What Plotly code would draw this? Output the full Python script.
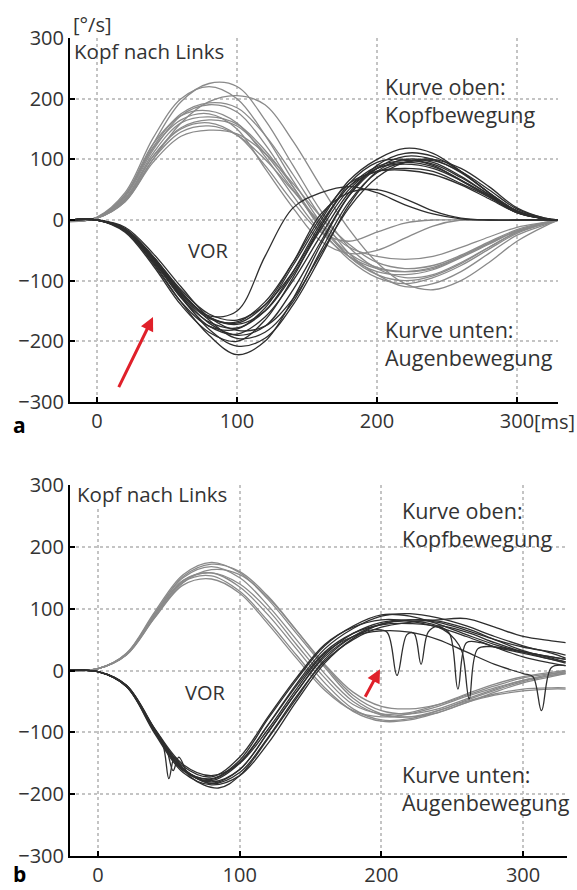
import plotly.graph_objects as go

# ---------------- data ----------------
T = [-20, 0, 20, 40, 60, 80, 100, 120, 140, 160, 180, 200, 220, 240, 260, 280, 300, 320, 330]

X_TICKS = [0, 100, 200, 300]
X_TICK_TEXT_A = ["0", "100", "200", "300"]
X_TICK_TEXT_B = ["0", "100", "200", "300"]
Y_TICKS = [-300, -200, -100, 0, 100, 200, 300]
Y_TICK_TEXT = ["\u2212300", "\u2212200", "\u2212100", "0", "100", "200", "300"]

# panel a: head velocity (upper curves)
HEAD_A = [
    [-3, 4, 40, 125, 195, 225, 220, 165, 90, 15, -45, -80, -95, -90, -70, -45, -20, -6, 0],
    [-2, 5, 45, 135, 200, 220, 200, 140, 65, -5, -60, -90, -100, -92, -72, -45, -20, -5, 0],
    [-2, 3, 30, 100, 160, 195, 205, 190, 130, 55, -15, -70, -105, -115, -100, -70, -35, -10, 0],
    [-2, 4, 40, 120, 175, 193, 185, 140, 75, 5, -55, -90, -110, -105, -85, -55, -25, -8, 0],
    [-2, 4, 38, 115, 172, 190, 178, 125, 55, -15, -65, -95, -105, -95, -75, -48, -22, -6, 0],
    [-2, 4, 42, 125, 172, 180, 160, 105, 40, -20, -60, -80, -85, -78, -60, -38, -18, -5, 0],
    [-2, 4, 40, 118, 165, 175, 150, 85, 20, -35, -55, -50, -30, -10, 0, 0, 0, 0, 0],
    [-2, 3, 35, 110, 160, 170, 158, 115, 55, -10, -60, -85, -90, -82, -62, -40, -18, -5, 0],
    [-2, 3, 33, 105, 152, 165, 155, 110, 50, -10, -55, -78, -85, -80, -60, -38, -18, -5, 0],
    [-2, 3, 32, 100, 145, 155, 140, 100, 48, -5, -45, -60, -65, -60, -45, -28, -12, -4, 0],
    [-2, 3, 30, 95, 138, 148, 142, 110, 60, 5, -40, -70, -80, -75, -58, -36, -16, -4, 0],
    [-2, 3, 35, 105, 150, 160, 140, 90, 30, -20, -35, -20, -5, 0, 0, 0, 0, 0, 0],
]

# panel a: eye velocity (lower curves)
EYE_A = [
    [0, 0, -18, -70, -135, -190, -222, -200, -130, -40, 40, 90, 110, 105, 80, 45, 15, 2, 0],
    [0, 0, -15, -62, -125, -180, -208, -195, -140, -60, 25, 80, 100, 95, 72, 42, 15, 2, 0],
    [0, 0, -20, -75, -140, -185, -200, -165, -95, -10, 60, 95, 100, 90, 65, 38, 12, 2, 0],
    [0, 0, -15, -65, -128, -175, -188, -160, -100, -25, 45, 85, 95, 88, 66, 40, 14, 2, 0],
    [0, 0, -18, -72, -135, -175, -180, -145, -75, 0, 65, 100, 118, 110, 80, 45, 12, 2, 0],
    [0, 0, -14, -60, -118, -160, -172, -150, -90, -15, 50, 85, 92, 85, 65, 40, 14, 2, 0],
    [0, 0, -16, -68, -125, -162, -168, -135, -70, 5, 60, 80, 82, 75, 58, 35, 12, 2, 0],
    [0, 0, -15, -60, -115, -155, -165, -140, -85, -10, 55, 80, 85, 80, 60, 38, 12, 2, 0],
    [0, 0, -15, -62, -120, -158, -150, -60, 20, 45, 55, 45, 25, 10, 2, 0, 0, 0, 0],
    [0, 0, -16, -65, -122, -160, -170, -140, -70, 10, 45, 50, 35, 15, 3, 0, 0, 0, 0],
    [0, 0, -12, -55, -110, -160, -182, -175, -130, -55, 20, 70, 95, 100, 85, 55, 20, 3, 0],
    [0, 0, -16, -64, -124, -170, -190, -175, -115, -35, 40, 85, 105, 100, 78, 45, 15, 2, 0],
    [0, 0, -17, -66, -128, -168, -178, -150, -85, -5, 55, 88, 98, 92, 70, 42, 14, 2, 0],
    [0, 0, -15, -60, -118, -165, -195, -185, -135, -50, 30, 78, 95, 98, 80, 50, 18, 3, 0],
]

# panel b: head velocity
HEAD_B = [
    [0, 3, 28, 95, 155, 175, 158, 115, 60, 5, -45, -70, -75, -68, -52, -35, -20, -10, -5],
    [0, 3, 27, 92, 150, 168, 150, 105, 50, -5, -50, -72, -75, -65, -48, -32, -18, -8, -4],
    [0, 3, 26, 90, 146, 158, 135, 90, 35, -20, -62, -80, -78, -65, -50, -38, -30, -28, -28],
    [0, 3, 26, 88, 143, 153, 128, 80, 25, -28, -66, -82, -80, -68, -52, -40, -33, -30, -30],
    [0, 3, 25, 86, 142, 163, 155, 118, 65, 10, -35, -58, -62, -55, -40, -25, -12, -5, -2],
    [0, 3, 25, 85, 138, 148, 125, 75, 20, -32, -65, -75, -70, -58, -42, -28, -16, -8, -5],
    [0, 3, 27, 92, 152, 172, 160, 120, 65, 8, -40, -65, -70, -62, -46, -30, -16, -6, -2],
    [0, 3, 26, 88, 145, 158, 140, 98, 42, -12, -55, -70, -68, -55, -38, -22, -10, -3, 0],
]

# panel b: eye velocity (smooth traces on the shared grid)
EYE_B = [
    [0, -2, -25, -98, -160, -180, -160, -100, -35, 25, 60, 78, 82, 78, 65, 50, 38, 30, 25],
    [0, -2, -24, -96, -158, -183, -165, -108, -42, 15, 50, 70, 78, 82, 84, 70, 55, 48, 45],
    [0, -2, -26, -100, -162, -178, -150, -88, -22, 35, 68, 88, 92, 85, 72, 55, 40, 28, 20],
    [0, -2, -25, -95, -155, -172, -140, -75, -12, 42, 70, 82, 80, 70, 55, 38, 22, 12, 8],
    [0, -2, -26, -102, -165, -185, -170, -118, -50, 12, 52, 75, 82, 80, 68, 50, 32, 20, 14],
    [0, -2, -25, -97, -160, -175, -145, -78, -15, 40, 72, 90, 88, 75, 58, 42, 30, 22, 18],
]

# panel b: eye traces with quick (saccadic) dips, each with its own time samples
SACC_B_X = [
    [-20, 0, 20, 40, 46, 50, 54, 60, 80, 100, 120, 140, 160, 180, 195, 204, 211, 218, 223, 228, 233, 240, 260, 280, 300, 320, 330],
    [-20, 0, 20, 40, 48, 53, 57, 65, 85, 100, 120, 140, 160, 180, 200, 220, 240, 248, 254, 260, 270, 280, 300, 320, 330],
    [-20, 0, 20, 40, 60, 80, 100, 120, 140, 160, 180, 200, 220, 240, 252, 257, 262, 268, 280, 300, 320, 330],
    [-20, 0, 20, 40, 60, 80, 100, 120, 140, 160, 180, 200, 220, 240, 260, 280, 300, 307, 313, 320, 330],
]
SACC_B_Y = [
    [0, -2, -25, -98, -122, -175, -140, -158, -182, -160, -100, -35, 22, 55, 66, 62, -8, 58, 60, 10, 62, 72, 62, 45, 30, 18, 12],
    [0, -2, -24, -95, -125, -162, -140, -172, -190, -170, -110, -45, 18, 55, 75, 80, 72, 60, -30, 45, 45, 38, 28, 18, 14],
    [0, -2, -26, -98, -160, -176, -148, -88, -25, 30, 60, 74, 76, 70, 50, 30, -46, 35, 38, 30, 22, 18],
    [0, -2, -24, -94, -152, -170, -150, -95, -30, 28, 55, 64, 62, 50, 30, 10, -5, -10, -65, 5, 8],
]

# red arrows: (tail time, tail value, head time, head value)
ARROW_A = [15, -278, 40, -160]
ARROW_B = [188, -45, 199, 2]

# ---------------- layout helpers ----------------
W, H = 577, 890
def pxx(x):
    return x / W
def pyy(y):
    return 1 - y / H

HEAD_COLOR = "#8a8a8a"
EYE_COLOR = "#2e2e2e"
TXT = "#333333"
FONT = "Open Sans"

fig = go.Figure()

def add_line(x, y, color, xa, ya, width=1.3):
    fig.add_trace(go.Scatter(
        x=x, y=y, mode="lines",
        line=dict(color=color, width=width, shape="spline", smoothing=1.0),
        xaxis=xa, yaxis=ya, showlegend=False, hoverinfo="skip"))

for v in HEAD_A:
    add_line(T, v, HEAD_COLOR, "x", "y")
for v in EYE_A:
    add_line(T, v, EYE_COLOR, "x", "y")
for v in HEAD_B:
    add_line(T, v, HEAD_COLOR, "x2", "y2")
for v in EYE_B:
    add_line(T, v, EYE_COLOR, "x2", "y2")
for xs, ys in zip(SACC_B_X, SACC_B_Y):
    add_line(xs, ys, EYE_COLOR, "x2", "y2")

def xaxis_cfg(dom, rng, ticktext, anchor):
    return dict(domain=dom, range=rng, tickvals=X_TICKS, ticktext=ticktext,
                ticks="inside", ticklen=5, tickwidth=1.5, tickcolor="black",
                showline=True, linecolor="black", linewidth=2,
                showgrid=True, gridcolor="#c4c4c4", gridwidth=1.5, griddash="dot",
                zeroline=False, anchor=anchor, fixedrange=True, automargin=False,
                tickfont=dict(family=FONT, size=20, color=TXT))

def yaxis_cfg(dom, anchor):
    return dict(domain=dom, range=[-300, 300], tickvals=Y_TICKS, ticktext=Y_TICK_TEXT,
                ticks="inside", ticklen=5, tickwidth=1.5, tickcolor="black",
                showline=True, linecolor="black", linewidth=2,
                showgrid=True, gridcolor="#c4c4c4", gridwidth=1.5, griddash="dot",
                zeroline=False, anchor=anchor, fixedrange=True, automargin=False,
                tickfont=dict(family=FONT, size=20, color=TXT))

fig.update_layout(
    width=W, height=H,
    margin=dict(l=0, r=0, t=0, b=0, autoexpand=False),
    paper_bgcolor="white", plot_bgcolor="white",
    font=dict(family=FONT, size=20, color=TXT),
    xaxis=xaxis_cfg([pxx(70), pxx(558)], [-19.3, 329.3], X_TICK_TEXT_A, "y"),
    yaxis=yaxis_cfg([pyy(402), pyy(38)], "x"),
    xaxis2=xaxis_cfg([pxx(70), pxx(567)], [-19.8, 331], X_TICK_TEXT_B, "y2"),
    yaxis2=yaxis_cfg([pyy(856), pyy(485)], "x2"),
)

def text(s, x, y, xanchor="left", size=21.5, bold=False, bg=None):
    fig.add_annotation(
        text=("<b>%s</b>" % s) if bold else s,
        x=pxx(x), y=pyy(y), xref="paper", yref="paper",
        xanchor=xanchor, yanchor="middle", align="left", showarrow=False,
        font=dict(family=FONT, size=size, color="black" if bold else TXT),
        bgcolor=bg, borderpad=0)

# panel a texts
text("[°/s]", 72, 24, size=20)
text("Kopf nach Links", 73, 51, size=20.5)
text("Kurve oben:<br>Kopfbewegung", 384, 100)
text("VOR", 208, 251, xanchor="center", size=20)
text("Kurve unten:<br>Augenbewegung", 384, 343)
text("[ms]", 533, 421, size=20)
text("a", 19, 425, xanchor="center", size=21, bold=True)

# panel b texts
text("Kopf nach Links", 76, 494, size=20.5, bg="white")
text("Kurve oben:<br>Kopfbewegung", 401, 524)
text("VOR", 205, 692, xanchor="center", size=20)
text("Kurve unten:<br>Augenbewegung", 401, 788)
text("b", 19, 874, xanchor="center", size=21, bold=True)

def arrow(a, xr, yr):
    fig.add_annotation(
        x=a[2], y=a[3], ax=a[0], ay=a[1], xref=xr, yref=yr, axref=xr, ayref=yr,
        showarrow=True, arrowhead=2, arrowsize=0.9, arrowwidth=3,
        arrowcolor="#e0202a", standoff=0, text="")

arrow(ARROW_A, "x", "y")
arrow(ARROW_B, "x2", "y2")

fig.write_html(
    "out.html",
    config={"displayModeBar": False},
    post_script="document.body.style.margin='0';document.body.style.overflow='hidden';",
)
